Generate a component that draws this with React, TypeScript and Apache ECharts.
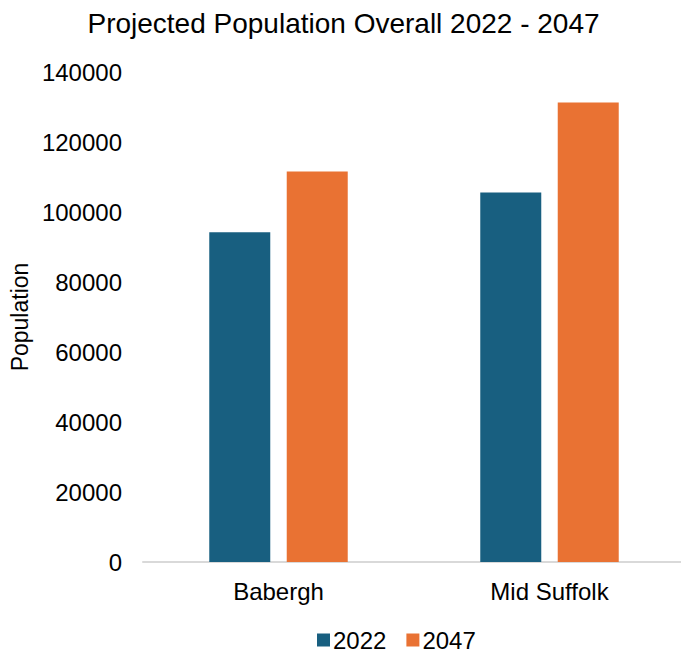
import React, { useEffect, useRef } from "react";
import * as echarts from "echarts";

const categories = ["Babergh", "Mid Suffolk"];
const series2022 = [94200, 105600];
const series2047 = [111600, 131300];
const seriesNames = ["2022", "2047"];
const titleText = "Projected Population Overall 2022 - 2047";
const yAxisName = "Population";

export default function App() {
  const ref = useRef<HTMLDivElement>(null);
  useEffect(() => {
    document.body.style.margin = "0";
    const chart = echarts.init(ref.current!, null, { renderer: "svg" });
    const font = "'Liberation Sans', Arial, sans-serif";
    chart.setOption({
      animation: false,
      textStyle: { fontFamily: font, color: "#000" },
      title: {
        text: titleText,
        left: "center",
        top: 4,
        textStyle: { fontFamily: font, fontSize: 28, fontWeight: "normal", color: "#000" },
      },
      legend: {
        data: seriesNames,
        left: 317,
        top: 628,
        padding: 0,
        itemWidth: 13,
        itemHeight: 13,
        itemGap: 20,
        icon: "rect",
        textStyle: { fontFamily: font, fontSize: 24, color: "#000", padding: [0, 0, 0, -2] },
      },
      grid: { left: 143, width: 542, top: 72, bottom: 90, containLabel: false },
      xAxis: {
        type: "category",
        data: categories,
        axisLine: { lineStyle: { color: "#d9d9d9", width: 2 } },
        axisTick: { show: false },
        axisLabel: { fontFamily: font, fontSize: 24, color: "#000", margin: 17 },
      },
      yAxis: {
        type: "value",
        min: 0,
        max: 140000,
        interval: 20000,
        name: yAxisName,
        nameLocation: "middle",
        nameRotate: 90,
        nameGap: 111,
        nameTextStyle: { fontFamily: font, fontSize: 23, color: "#000" },
        splitLine: { show: false },
        axisLine: { show: false },
        axisTick: { show: false },
        axisLabel: {
          fontFamily: font,
          fontSize: 24,
          color: "#000",
          margin: 21,
          formatter: (v: number) => String(v),
        },
      },
      series: [
        {
          name: seriesNames[0],
          type: "bar",
          data: series2022,
          barWidth: 61,
          barGap: "27%",
          itemStyle: { color: "#185f80" },
        },
        {
          name: seriesNames[1],
          type: "bar",
          data: series2047,
          barWidth: 61,
          itemStyle: { color: "#e97233" },
        },
      ],
    });
    return () => chart.dispose();
  }, []);
  return (
    <div style={{ width: 681, height: 652, position: "absolute", left: 0, top: 0, overflow: "hidden" }}>
      <div ref={ref} style={{ width: 687, height: 652 }} />
    </div>
  );
}
